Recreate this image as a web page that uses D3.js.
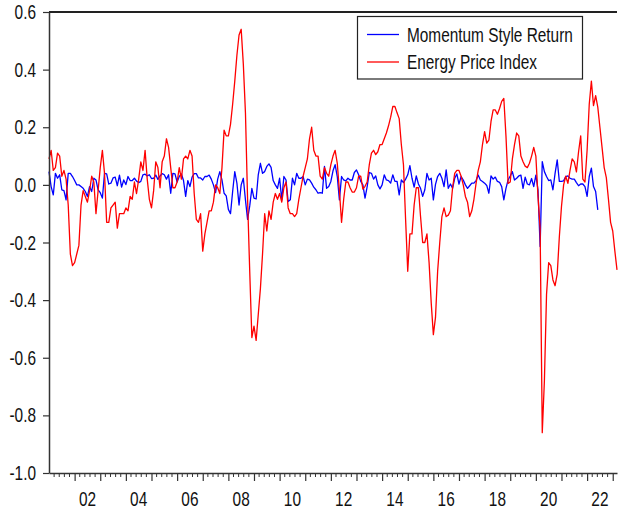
<!DOCTYPE html>
<html>
<head>
<meta charset="utf-8">
<script src="https://cdn.jsdelivr.net/npm/d3@7"></script>
<style>
  body { margin: 0; background: #fff; }
  text { font-family: "Liberation Sans", Arial, sans-serif; fill: #111; }
</style>
</head>
<body>
<svg id="chart" width="619" height="515"></svg>
<script>
// monthly observations, first one is 2001M01
const startYear = 2001;

const energyPrice = [
  0.09, 0.12, 0.05, 0.06, 0.11, 0.10, 0.03, 0.05, 0.02, -0.07,
  -0.24, -0.28, -0.27, -0.24, -0.21, -0.07, -0.02, -0.04, -0.06, -0.02,
  0.03, 0.01, -0.10, -0.02, 0.06, 0.12, 0.04, -0.13, -0.13, -0.08,
  -0.07, -0.06, -0.15, -0.10, -0.10, -0.10, -0.08, -0.09, -0.04, -0.05,
  0.01, -0.03, 0.02, 0.08, 0.05, 0.12, 0.02, -0.05, -0.08, -0.02,
  0.08, 0.06, -0.01, 0.08, 0.10, 0.16, 0.13, 0.06, -0.01, -0.01,
  0.01, 0.06, 0.02, 0.09, 0.10, 0.09, 0.12, 0.10, -0.03, -0.12,
  -0.13, -0.10, -0.23, -0.17, -0.13, -0.09, -0.09, -0.06, 0.00, -0.01,
  -0.03, 0.06, 0.19, 0.17, 0.17, 0.21, 0.28, 0.36, 0.45, 0.52,
  0.54, 0.42, 0.25, -0.05, -0.30, -0.53, -0.49, -0.54, -0.45, -0.36,
  -0.24, -0.10, -0.16, -0.09,
  -0.12, -0.06, -0.03, -0.05, -0.03, -0.06, -0.01, 0.01, -0.08, -0.10,
  -0.10, -0.11, -0.10, -0.05, -0.01, 0.03, 0.06, 0.09, 0.16, 0.20,
  0.12, 0.10, 0.10, 0.03, 0.02, 0.06, 0.04, 0.03, 0.07, 0.10,
  0.12, 0.075, -0.02, -0.13, -0.05, 0.01, 0.01, -0.01, -0.025, -0.025,
  -0.01, 0.03, 0.03, -0.015, -0.005, 0.01, 0.07, 0.11, 0.12, 0.105,
  0.115, 0.14, 0.14, 0.16, 0.18, 0.205, 0.235,
  0.272, 0.272, 0.25, 0.23, 0.14, 0.07, -0.12, -0.30, -0.17, -0.17,
  -0.07, -0.01, -0.01, -0.11, -0.20, -0.20, -0.17, -0.27, -0.41, -0.52,
  -0.46, -0.30, -0.20, -0.11, -0.08, -0.11, -0.105, -0.09, -0.01, 0.04,
  0.05, 0.05, 0.03, 0.00, -0.04, -0.06, -0.11, -0.09, -0.05, 0.005,
  0.05, 0.08,
  0.14, 0.185, 0.145, 0.155, 0.22, 0.26, 0.26, 0.245, 0.265, 0.29,
  0.30, 0.17, 0.005, 0.01, 0.09, 0.14, 0.18, 0.17, 0.10, 0.08,
  0.065, 0.06, 0.075, 0.10, 0.13, 0.10, -0.04, -0.15, -0.86, -0.68,
  -0.38, -0.27, -0.28, -0.33, -0.35, -0.31, -0.18, -0.075, 0.00, 0.03,
  0.005, 0.05, 0.09, 0.08, 0.045, 0.115, 0.17, 0.02, 0.01, 0.12,
  0.28, 0.36, 0.275, 0.31, 0.27, 0.20, 0.13, 0.06, 0.025, -0.05,
  -0.13, -0.16, -0.23, -0.295
];

const momentumReturn = [
  0.046, -0.006, -0.035, 0.04, 0.023, 0.035, -0.017, -0.02, -0.052, 0.04,
  0.04, 0.029, 0.015, 0.0, 0.0, -0.006, -0.012, -0.023, -0.04, -0.006,
  -0.023, 0.023, 0.017, -0.017, -0.027, -0.046, 0.04, 0.038, 0.003, 0.006,
  0.024, 0.027, -0.003, 0.034, -0.008, 0.017, 0.001, 0.029, 0.015, 0.015,
  0.023, 0.013, 0.008, 0.012, 0.035, 0.037, 0.031, 0.035, 0.022, 0.023,
  0.034, 0.019, 0.031, 0.039, 0.035, 0.02, 0.035, -0.029, 0.04, 0.038,
  0.01, 0.029, 0.038, 0.015, -0.04, 0.015, -0.006, 0.027, 0.039, 0.039,
  0.024, 0.024, 0.017, 0.029, 0.029, 0.034, 0.02, 0.0, -0.027, 0.02,
  0.046, 0.017, -0.029, -0.038, -0.085, -0.10, -0.023, 0.046, 0.006, -0.07,
  0.0, 0.023, -0.052, -0.12, -0.073, -0.012, -0.046, -0.049, 0.035, 0.075,
  0.04, 0.046, 0.064, 0.073, 0.061, 0.015, 0.0, -0.012, 0.023, -0.052,
  0.029, 0.017, -0.058, -0.052, 0.023, 0.0, 0.04, 0.023, 0.023, 0.029,
  0.0, 0.02, 0.017, 0.006, -0.008, -0.017, -0.029, -0.027, -0.029, 0.064,
  -0.012, -0.006,
  0.012, 0.049, 0.07, 0.029, -0.052, 0.029, 0.017, 0.014, 0.023, 0.017,
  0.017, 0.043, 0.052, 0.035, 0.012, 0.0, -0.046, -0.006, 0.043, 0.04,
  0.02, 0.031, 0.0, -0.014, 0.0, 0.035, 0.017, 0.015, 0.006, 0.035,
  0.012, 0.012, -0.035, 0.017, 0.008, 0.02, 0.035, 0.067, 0.023, -0.008,
  0.031, 0.003, -0.012, -0.04, -0.017, 0.04, 0.017,
  0.023, -0.052, 0.002, 0.029, 0.04, 0.023, -0.006, 0.052, -0.012, 0.003,
  -0.012, 0.023, 0.038, 0.003, 0.029, 0.017, 0.0, -0.012, -0.003, 0.006,
  0.006, 0.015, 0.034, 0.017, 0.012, 0.006, -0.002, -0.029, 0.031, 0.02,
  0.027, 0.012, 0.009, -0.006, -0.052, -0.012, 0.017, 0.031, 0.046, 0.017,
  0.023, 0.031, 0.034, -0.012, 0.027, 0.003, 0.0, 0.022, -0.006, 0.034,
  -0.017, -0.214, 0.081, 0.046, 0.029, 0.015, 0.017, -0.017, 0.04, 0.087,
  0.012, 0.012, 0.014, 0.029, 0.031, 0.023, 0.02, 0.02, 0.008, -0.003,
  0.003, 0.003, -0.006, -0.04, 0.029, 0.058, -0.006, -0.023, -0.087
];

const yTicks = [-1.0, -0.8, -0.6, -0.4, -0.2, 0.0, 0.2, 0.4, 0.6];
const yearLabels = ['02', '04', '06', '08', '10', '12', '14', '16', '18', '20', '22'];
const seriesNames = ['Momentum Style Return', 'Energy Price Index'];
const seriesColors = ['#0000ff', '#ff0000'];

const plot = { left: 49, top: 12, right: 617, bottom: 473 };
const squeeze = 0.77; // the original text is horizontally condensed

const svg = d3.select('#chart');

const lastT = startYear + (energyPrice.length - 1) / 12;
const x = d3.scaleLinear().domain([startYear, lastT]).range([plot.left, plot.right]);
const y = d3.scaleLinear().domain([-1.0, 0.6]).range([plot.bottom, plot.top]);

function label(sel, px, py, txt, anchor) {
  return sel.append('text')
    .attr('transform', `translate(${px},${py}) scale(${squeeze},1)`)
    .attr('text-anchor', anchor)
    .attr('font-size', 20)
    .text(txt);
}

// lines
const line = d3.line()
  .x((d, i) => x(startYear + i / 12))
  .y(d => y(d));

const lines = svg.append('g');
[momentumReturn, energyPrice].forEach((series, k) => {
  lines.append('path')
    .datum(series)
    .attr('fill', 'none')
    .attr('stroke', seriesColors[k])
    .attr('stroke-width', 1.3)
    .attr('stroke-linejoin', 'round')
    .attr('d', line);
});

// frame
svg.append('line')
  .attr('x1', plot.left).attr('x2', plot.right)
  .attr('y1', plot.top).attr('y2', plot.top)
  .attr('stroke', '#222').attr('stroke-width', 2);

// y axis
const yAxis = d3.axisLeft(y).tickValues(yTicks).tickSize(6).tickSizeOuter(0).tickFormat('');
const gy = svg.append('g')
  .attr('transform', `translate(${plot.left},0)`)
  .call(yAxis);
gy.select('.domain').attr('stroke', '#333').attr('stroke-width', 1.5);
gy.selectAll('.tick line').attr('stroke', '#333').attr('stroke-width', 1.2);
const fmt = v => d3.format('.1f')(v).replace('\u2212', '-');
yTicks.forEach(v => label(svg, 36, y(v) + 7, fmt(v), 'end'));

// x axis: long tick each year, short ticks in between
const minorTicks = d3.range(startYear * 5, Math.floor(lastT * 5) + 1).map(v => v / 5)
  .filter(v => Math.abs(v - Math.round(v)) > 1e-6);
const yearTicks = d3.range(startYear + 1, Math.floor(lastT) + 1);

const gx = svg.append('g')
  .attr('transform', `translate(0,${plot.bottom})`)
  .call(d3.axisBottom(x).tickValues(yearTicks).tickSize(8).tickFormat('').tickSizeOuter(0));
gx.select('.domain').attr('stroke', '#333').attr('stroke-width', 1.5);
gx.selectAll('.tick line').attr('stroke', '#333').attr('stroke-width', 1.2);

svg.append('g').selectAll('line')
  .data(minorTicks)
  .join('line')
  .attr('x1', d => x(d)).attr('x2', d => x(d))
  .attr('y1', plot.bottom).attr('y2', plot.bottom + 4)
  .attr('stroke', '#333').attr('stroke-width', 1);

yearLabels.forEach(lbl => {
  const yr = 2000 + (+lbl);
  label(svg, x(yr + 0.5), 506, lbl, 'middle');
});

// legend
const legend = svg.append('g');
legend.append('rect')
  .attr('x', 357.5).attr('y', 16.5)
  .attr('width', 225).attr('height', 62.5)
  .attr('fill', '#fff').attr('stroke', '#222').attr('stroke-width', 1.2);
seriesNames.forEach((name, k) => {
  const ly = 34.5 + k * 27.5;
  legend.append('line')
    .attr('x1', 367).attr('x2', 399)
    .attr('y1', ly).attr('y2', ly)
    .attr('stroke', seriesColors[k]).attr('stroke-width', 1.3);
  label(legend, 407, ly + 7, name, 'start');
});
</script>
</body>
</html>
